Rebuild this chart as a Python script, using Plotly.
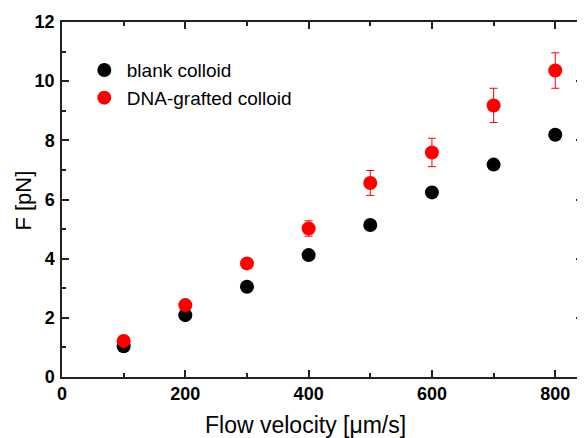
import plotly.graph_objects as go

velocity = [100, 200, 300, 400, 500, 600, 700, 800]
blank_force = [1.04, 2.09, 3.05, 4.12, 5.14, 6.24, 7.18, 8.19]
dna_force = [1.22, 2.43, 3.84, 5.02, 6.56, 7.59, 9.18, 10.36]
dna_err = [0.15, 0.1, 0.1, 0.26, 0.42, 0.48, 0.58, 0.6]

FONT = "Liberation Sans, Arial, sans-serif"

fig = go.Figure()
fig.add_trace(go.Scatter(
    x=velocity, y=blank_force, mode="markers", name="blank colloid",
    marker=dict(color="black", size=14, line=dict(width=0)),
))
fig.add_trace(go.Scatter(
    x=velocity, y=dna_force, mode="markers", name="DNA-grafted colloid",
    marker=dict(color="#ff0000", size=14, line=dict(width=0)),
    error_y=dict(type="data", array=dna_err, visible=True, color="#ff0000",
                 thickness=1, width=4),
))

axis_common = dict(
    showline=True, linecolor="#222", linewidth=1.5, mirror="ticks",
    ticks="inside", ticklen=7, tickwidth=1.5, tickcolor="#222",
    showgrid=False, zeroline=False,
    tickfont=dict(family=FONT, size=18, color="black", weight="bold"),
)

fig.update_xaxes(range=[0, 845], tickvals=[0, 200, 400, 600, 800],
                 minor=dict(tickvals=[100, 300, 500, 700], ticks="inside",
                            ticklen=4, tickwidth=1.5, tickcolor="#222"),
                 ticklabelstandoff=0, **axis_common)
fig.update_yaxes(range=[0, 12], tickvals=[0, 2, 4, 6, 8, 10, 12],
                 minor=dict(tickvals=[1, 3, 5, 7, 9, 11], ticks="inside",
                            ticklen=4, tickwidth=1.5, tickcolor="#222"),
                 ticklabelstandoff=2, **axis_common)

fig.update_layout(
    width=577, height=430,
    margin=dict(l=54, r=0, t=14, b=61),
    plot_bgcolor="white", paper_bgcolor="white",
    font=dict(family=FONT, color="black"),
    showlegend=True,
    legend=dict(x=0.038, y=0.918, xanchor="left", yanchor="top",
                bgcolor="rgba(0,0,0,0)", borderwidth=0, itemwidth=35,
                font=dict(family=FONT, size=19, color="black")),
    annotations=[
        dict(text="Flow velocity [\u03bcm/s]", xref="paper", yref="paper",
             x=0.4665, y=-0.136, xanchor="center", yanchor="middle",
             showarrow=False, font=dict(family=FONT, size=23, color="black")),
        dict(text="F [pN]", xref="paper", yref="paper",
             x=-0.0736, y=0.496, xanchor="center", yanchor="middle",
             textangle=-90, showarrow=False,
             font=dict(family=FONT, size=22, color="black")),
    ],
)

fig.write_html("out.html")
